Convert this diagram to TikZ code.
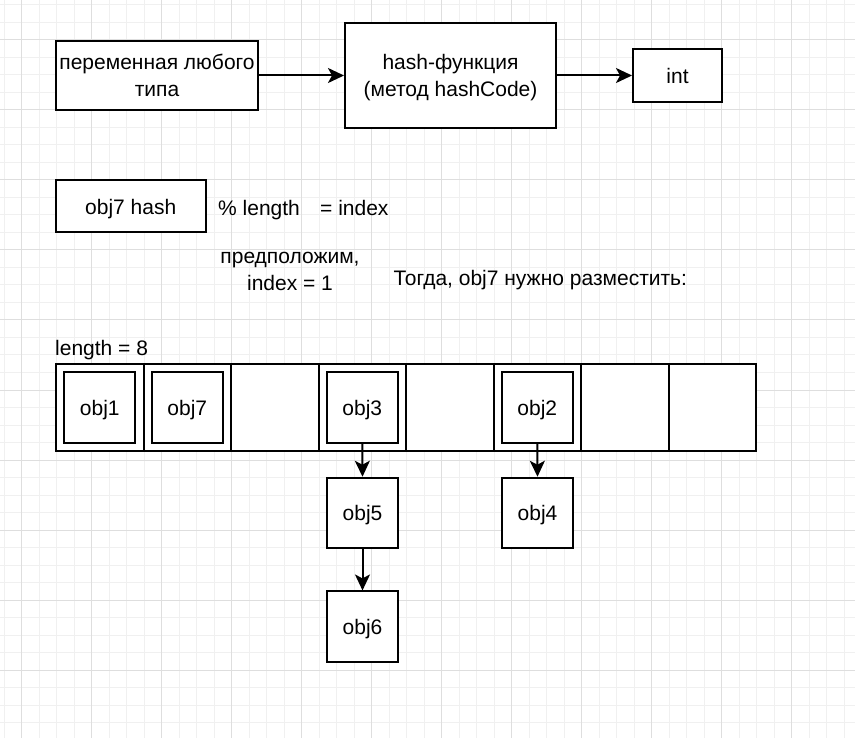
\documentclass[tikz,border=0pt]{standalone}
\usepackage{fontspec}
\setmainfont{Liberation Sans}
\usetikzlibrary{arrows.meta}

\definecolor{gridminor}{HTML}{F0F0F0}
\definecolor{gridmajor}{HTML}{DEDEDE}

% line strut: every text line gets the same height and depth
\newcommand\txtline{\rule[-6pt]{0pt}{27.5pt}}

\tikzset{
  box/.style={draw=black, line width=2pt, fill=white, inner sep=0pt,
    align=center, font=\fontsize{21}{27.5}\selectfont},
  label/.style={inner sep=0pt, align=center, font=\fontsize{21}{27.5}\selectfont},
  link/.style={line width=2pt, -{Stealth[length=16pt,width=15pt,inset=4pt]}},
}

\begin{document}
\begin{tikzpicture}[x=1pt,y=-1pt]
  \useasboundingbox (0,0) rectangle (855,738);
  \fill[white] (0,0) rectangle (855,738);

  % background grid: fine lines every 17.5, heavier every 70
  \foreach \k in {0,...,48}
    \draw[gridminor, line width=1pt] ({4.2+17.5*\k},0) -- ({4.2+17.5*\k},738);
  \foreach \k in {0,...,41}
    \draw[gridminor, line width=1pt] (0,{5+17.5*\k}) -- (855,{5+17.5*\k});
  \foreach \k in {0,...,11}
    \draw[gridmajor, line width=1pt] ({21.7+70*\k},0) -- ({21.7+70*\k},738);
  \foreach \k in {0,...,10}
    \draw[gridmajor, line width=1pt] (0,{40+70*\k}) -- (855,{40+70*\k});

  % hash function pipeline
  \node[box, minimum width=202pt, minimum height=69pt] (var) at (157,75.5)
    {\txtline переменная любого\\\txtline типа};
  \node[box, minimum width=211pt, minimum height=105pt] (hash) at (450.5,75.5)
    {\txtline hash-функция\\\txtline (метод hashCode)};
  \node[box, minimum width=89pt, minimum height=53pt] (int) at (677.5,75.5) {\txtline int};
  \draw[link] (var.east) -- (hash.west);
  \draw[link] (hash.east) -- (int.west);

  % index calculation
  \node[box, minimum width=150pt, minimum height=52pt] (objhash) at (130.7,206.5) {\txtline obj7 hash};
  \node[label, anchor=west] (mod) at (218,207.5) {\txtline\% length};
  \node[label, anchor=west] (eq) at (320,207.5) {\txtline= index};
  \node[label] (assume) at (290,269.5) {\txtline предположим,\\\txtline index = 1};
  \node[label, anchor=west] (then) at (393.5,277.5) {\txtline Тогда, obj7 нужно разместить:};

  % bucket array
  \node[label, anchor=west] (len) at (55,347.5) {\txtline length = 8};
  \foreach \i in {0,...,7}
    \node[box, minimum width=87.5pt, minimum height=87.5pt] (c\i)
      at ({56+43.75+87.5*\i},407.7) {};

  \node[box, minimum width=71pt, minimum height=71pt] (obj1) at (c0) {\txtline obj1};
  \node[box, minimum width=71pt, minimum height=71pt] (obj7) at (c1) {\txtline obj7};
  \node[box, minimum width=71pt, minimum height=71pt] (obj3) at (c3) {\txtline obj3};
  \node[box, minimum width=71pt, minimum height=71pt] (obj2) at (c5) {\txtline obj2};

  % chained entries
  \node[box, minimum width=70.5pt, minimum height=70.5pt] (obj5) at (362.5,513) {\txtline obj5};
  \node[box, minimum width=70.5pt, minimum height=70.5pt] (obj6) at (362.5,626.7) {\txtline obj6};
  \node[box, minimum width=70.5pt, minimum height=70.5pt] (obj4) at (537.5,513) {\txtline obj4};

  \draw[link] (obj3.south) -- (obj5.north);
  \draw[link] (obj5.south) -- (obj6.north);
  \draw[link] (obj2.south) -- (obj4.north);
\end{tikzpicture}
\end{document}
